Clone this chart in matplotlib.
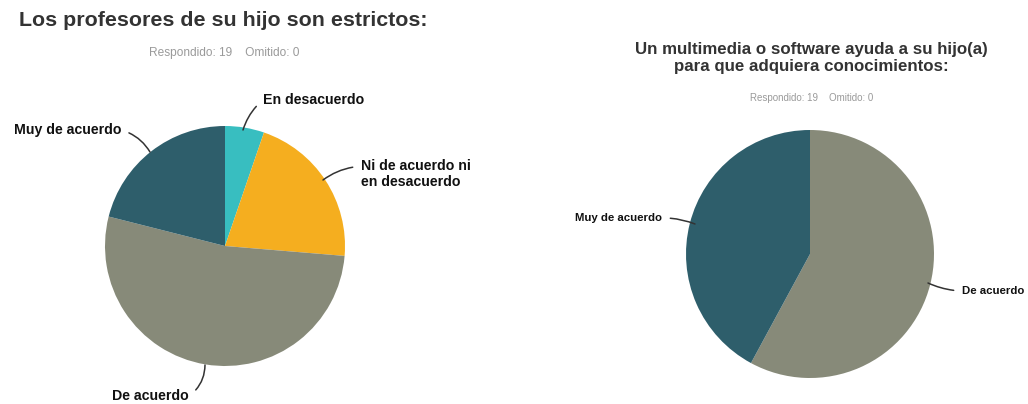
import matplotlib.pyplot as plt

plt.rcParams["font.family"] = ["Liberation Sans", "DejaVu Sans"]

W, H = 1028, 404

# left chart: clockwise from 12 o'clock
left_labels = ["En desacuerdo", "Ni de acuerdo ni\nen desacuerdo", "De acuerdo", "Muy de acuerdo"]
left_counts = [1, 4, 10, 4]
left_colors = ["#38BEC0", "#F5AE1F", "#878A79", "#2E5E6B"]

# right chart
right_labels = ["De acuerdo", "Muy de acuerdo"]
right_counts = [11, 8]
right_colors = ["#878A79", "#2E5E6B"]

left_title = "Los profesores de su hijo son estrictos:"
right_title = "Un multimedia o software ayuda a su hijo(a)\npara que adquiera conocimientos:"
sub = "Respondido: 19    Omitido: 0"

fig = plt.figure(figsize=(W / 100, H / 100), dpi=100)
ax = fig.add_axes([0, 0, 1, 1])


def Y(y):
    # image pixel row -> data y
    return H - y


ax.pie(left_counts, colors=left_colors, startangle=90, counterclock=False,
       center=(225, Y(246)), radius=120, wedgeprops=dict(linewidth=0),
       frame=True)
ax.pie(right_counts, colors=right_colors, startangle=90, counterclock=False,
       center=(810, Y(254)), radius=124, wedgeprops=dict(linewidth=0),
       frame=True)
ax.set_xlim(0, W)
ax.set_ylim(0, H)
ax.set_aspect("equal")
ax.axis("off")

lab = dict(fontweight="heavy", color="#111111")


def leader(rad, rel):
    return dict(arrowstyle="-", color="#333333", lw=1.1, shrinkA=4, shrinkB=0,
                connectionstyle=f"arc3,rad={rad}", relpos=rel)


# left labels
ax.annotate(left_labels[0], xy=(243, Y(130)), xytext=(263, Y(100)), ha="left", va="center",
            fontsize=10.2, arrowprops=leader(0.15, (0, 0.5)), **lab)
ax.annotate(left_labels[1], xy=(323, Y(180)), xytext=(361, Y(174)), ha="left", va="center",
            fontsize=10.2, linespacing=1.25, arrowprops=leader(0.15, (0, 0.75)), **lab)
ax.annotate(left_labels[3], xy=(150, Y(152)), xytext=(121, Y(130)), ha="right", va="center",
            fontsize=10.2, arrowprops=leader(-0.2, (1, 0.5)), **lab)
ax.annotate(left_labels[2], xy=(205, Y(365)), xytext=(189, Y(396)), ha="right", va="center",
            fontsize=10.2, arrowprops=leader(0.25, (1, 0.5)), **lab)

# right labels
ax.annotate(right_labels[1], xy=(695, Y(224)), xytext=(662, Y(218)), ha="right", va="center",
            fontsize=8.2, arrowprops=leader(-0.1, (1, 0.5)), **lab)
ax.annotate(right_labels[0], xy=(928, Y(283)), xytext=(962, Y(291)), ha="left", va="center",
            fontsize=8.2, arrowprops=leader(-0.1, (0, 0.5)), **lab)

# titles
ax.text(223, Y(20), left_title, ha="center", va="center", fontsize=15.4,
        fontweight="bold", color="#333333")
ax.text(224, Y(53), sub, ha="center", va="center", fontsize=8.6, color="#9A9A9A")
ax.text(811, Y(58), right_title, ha="center", va="center", fontsize=12.2,
        fontweight="bold", color="#333333", linespacing=1.2)
ax.text(812, Y(98), sub, ha="center", va="center", fontsize=7, color="#9A9A9A")

fig.savefig("out.png", dpi=100, facecolor="white")
